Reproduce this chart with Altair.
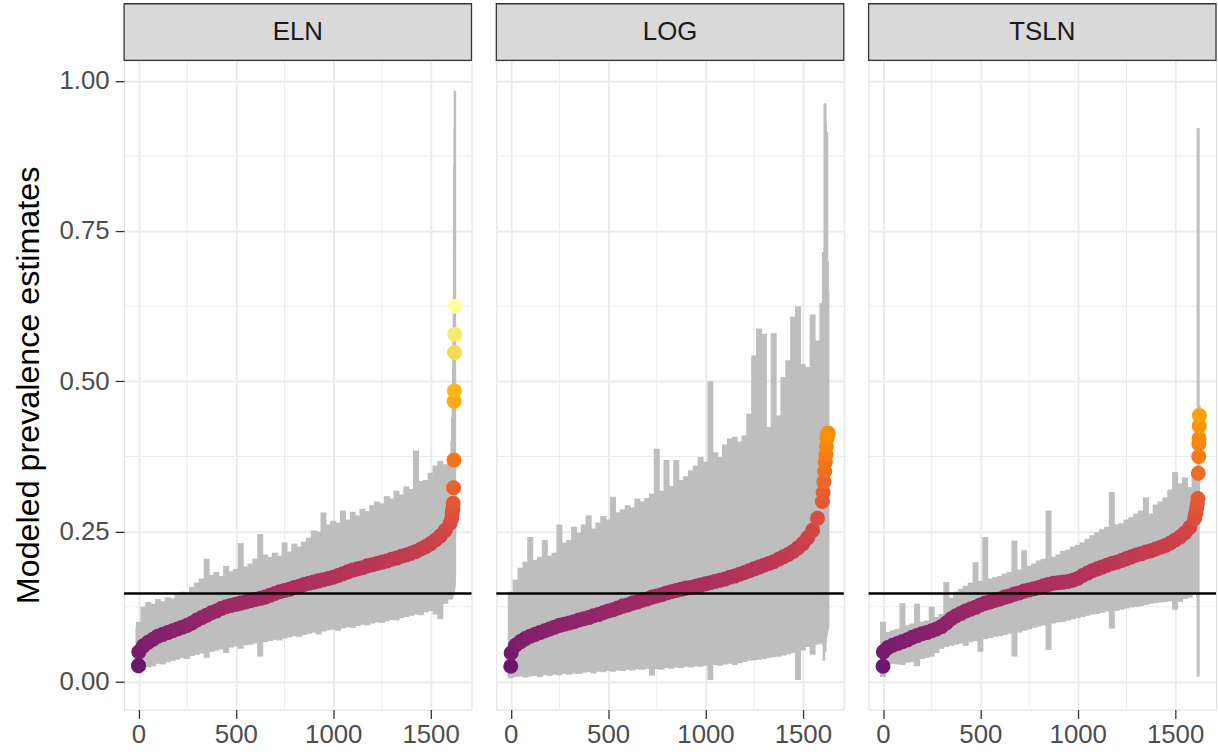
import altair as alt
import pandas as pd

# ---------------- data ----------------
PANELS = ["ELN", "LOG", "TSLN"]

# sampled ranks along the sorted x axis
RANKS = [0, 2, 25, 50, 75, 100, 125, 150, 175, 200,
         225, 250, 275, 300, 325, 350, 375, 400, 425, 450,
         475, 500, 525, 550, 575, 600, 625, 650, 675, 700,
         725, 750, 775, 800, 825, 850, 875, 900, 925, 950,
         975, 1000, 1025, 1050, 1075, 1100, 1125, 1150, 1175, 1200,
         1225, 1250, 1275, 1300, 1325, 1350, 1375, 1400, 1425, 1450,
         1475, 1500, 1525, 1550, 1575, 1600]

ELN_EST = [0.027, 0.050, 0.060, 0.066, 0.071, 0.076, 0.079, 0.082, 0.085, 0.088,
           0.091, 0.094, 0.098, 0.103, 0.107, 0.111, 0.115, 0.118, 0.122, 0.125,
           0.127, 0.129, 0.131, 0.133, 0.135, 0.137, 0.139, 0.141, 0.144, 0.147,
           0.150, 0.152, 0.154, 0.157, 0.159, 0.162, 0.164, 0.166, 0.168, 0.170,
           0.172, 0.174, 0.177, 0.180, 0.183, 0.186, 0.188, 0.190, 0.193, 0.195,
           0.197, 0.199, 0.201, 0.204, 0.206, 0.209, 0.211, 0.214, 0.217, 0.221,
           0.225, 0.230, 0.236, 0.243, 0.252, 0.264]
ELN_HI = [0.091, 0.100, 0.125, 0.133, 0.130, 0.138, 0.134, 0.141, 0.139, 0.146,
          0.150, 0.148, 0.158, 0.165, 0.172, 0.205, 0.178, 0.183, 0.176, 0.193,
          0.184, 0.188, 0.231, 0.192, 0.197, 0.205, 0.246, 0.212, 0.208, 0.215,
          0.210, 0.232, 0.217, 0.230, 0.225, 0.233, 0.240, 0.252, 0.250, 0.282,
          0.262, 0.268, 0.265, 0.285, 0.270, 0.283, 0.277, 0.288, 0.284, 0.294,
          0.300, 0.297, 0.309, 0.305, 0.318, 0.312, 0.325, 0.321, 0.385, 0.334,
          0.336, 0.348, 0.360, 0.368, 0.362, 0.372]
ELN_LO = [0.014, 0.018, 0.020, 0.024, 0.026, 0.030, 0.029, 0.033, 0.035, 0.037,
          0.040, 0.038, 0.043, 0.045, 0.047, 0.040, 0.050, 0.052, 0.054, 0.048,
          0.057, 0.059, 0.055, 0.061, 0.062, 0.064, 0.042, 0.066, 0.068, 0.070,
          0.069, 0.072, 0.074, 0.076, 0.075, 0.078, 0.080, 0.082, 0.079, 0.084,
          0.086, 0.087, 0.085, 0.089, 0.091, 0.090, 0.093, 0.095, 0.094, 0.097,
          0.099, 0.098, 0.101, 0.103, 0.102, 0.106, 0.108, 0.110, 0.112, 0.111,
          0.116, 0.118, 0.112, 0.104, 0.130, 0.137]
ELN_TAIL_RANK = [1608, 1611, 1614, 1616, 1618, 1620, 1621, 1622, 1623, 1624, 1625]
ELN_TAIL_EST = [0.272, 0.280, 0.288, 0.297, 0.323, 0.369, 0.467, 0.484, 0.548, 0.578, 0.625]
ELN_TAIL_HI = [0.400, 0.440, 0.480, 0.520, 0.580, 0.640, 0.720, 0.780, 0.860, 0.920, 0.984]
ELN_TAIL_LO = [0.138, 0.140, 0.142, 0.144, 0.146, 0.150, 0.155, 0.160, 0.165, 0.170, 0.175]

LOG_EST = [0.026, 0.048, 0.061, 0.067, 0.072, 0.076, 0.079, 0.082, 0.085, 0.088,
           0.091, 0.094, 0.096, 0.098, 0.100, 0.103, 0.105, 0.107, 0.110, 0.112,
           0.115, 0.118, 0.120, 0.123, 0.126, 0.128, 0.131, 0.133, 0.136, 0.138,
           0.141, 0.143, 0.145, 0.148, 0.150, 0.152, 0.154, 0.156, 0.157, 0.159,
           0.161, 0.163, 0.165, 0.167, 0.169, 0.171, 0.174, 0.176, 0.179, 0.182,
           0.185, 0.188, 0.191, 0.194, 0.197, 0.200, 0.204, 0.208, 0.212, 0.217,
           0.223, 0.230, 0.240, 0.252, 0.272, 0.300]
LOG_HI = [0.142, 0.150, 0.170, 0.190, 0.200, 0.241, 0.203, 0.208, 0.236, 0.210,
          0.215, 0.262, 0.232, 0.236, 0.258, 0.248, 0.262, 0.277, 0.255, 0.265,
          0.276, 0.270, 0.308, 0.282, 0.287, 0.294, 0.290, 0.305, 0.300, 0.306,
          0.313, 0.388, 0.318, 0.369, 0.326, 0.369, 0.336, 0.342, 0.352, 0.360,
          0.374, 0.366, 0.500, 0.382, 0.374, 0.395, 0.405, 0.408, 0.400, 0.410,
          0.446, 0.543, 0.588, 0.579, 0.424, 0.580, 0.443, 0.507, 0.535, 0.608,
          0.625, 0.529, 0.524, 0.611, 0.568, 0.630]
LOG_LO = [0.006, 0.008, 0.008, 0.009, 0.007, 0.009, 0.010, 0.008, 0.011, 0.010,
          0.012, 0.011, 0.013, 0.012, 0.014, 0.013, 0.015, 0.016, 0.014, 0.017,
          0.016, 0.018, 0.017, 0.019, 0.018, 0.020, 0.019, 0.021, 0.020, 0.022,
          0.010, 0.021, 0.020, 0.023, 0.022, 0.024, 0.023, 0.025, 0.024, 0.026,
          0.025, 0.027, 0.003, 0.028, 0.027, 0.029, 0.030, 0.028, 0.031, 0.033,
          0.035, 0.036, 0.037, 0.038, 0.040, 0.041, 0.042, 0.044, 0.046, 0.048,
          0.003, 0.052, 0.058, 0.045, 0.062, 0.064]
LOG_TAIL_RANK = [1604, 1608, 1612, 1615, 1618, 1621, 1624, 1627, 1630]
LOG_TAIL_EST = [0.315, 0.333, 0.350, 0.365, 0.378, 0.392, 0.405, 0.410, 0.414]
LOG_TAIL_HI = [0.715, 0.640, 0.962, 0.962, 0.930, 0.914, 0.914, 0.700, 0.650]
LOG_TAIL_LO = [0.060, 0.035, 0.070, 0.050, 0.065, 0.075, 0.080, 0.085, 0.090]

TSLN_EST = [0.026, 0.050, 0.057, 0.061, 0.064, 0.067, 0.070, 0.074, 0.077, 0.080,
            0.082, 0.085, 0.088, 0.092, 0.098, 0.105, 0.110, 0.114, 0.118, 0.121,
            0.124, 0.128, 0.131, 0.133, 0.136, 0.138, 0.141, 0.143, 0.146, 0.148,
            0.151, 0.153, 0.155, 0.157, 0.160, 0.162, 0.164, 0.165, 0.166, 0.167,
            0.169, 0.172, 0.177, 0.181, 0.185, 0.188, 0.191, 0.194, 0.197, 0.199,
            0.202, 0.205, 0.208, 0.211, 0.213, 0.216, 0.218, 0.221, 0.224, 0.227,
            0.231, 0.236, 0.241, 0.248, 0.257, 0.272]
TSLN_HI = [0.100, 0.085, 0.083, 0.086, 0.088, 0.131, 0.094, 0.097, 0.130, 0.100,
           0.102, 0.125, 0.108, 0.113, 0.166, 0.140, 0.150, 0.155, 0.160, 0.165,
           0.199, 0.168, 0.241, 0.172, 0.174, 0.176, 0.180, 0.183, 0.235, 0.187,
           0.219, 0.193, 0.197, 0.202, 0.205, 0.285, 0.208, 0.212, 0.218, 0.220,
           0.225, 0.228, 0.232, 0.238, 0.244, 0.249, 0.254, 0.258, 0.316, 0.262,
           0.264, 0.270, 0.274, 0.280, 0.285, 0.307, 0.280, 0.295, 0.300, 0.307,
           0.320, 0.349, 0.330, 0.340, 0.324, 0.345]
TSLN_LO = [0.008, 0.015, 0.028, 0.030, 0.029, 0.028, 0.032, 0.033, 0.026, 0.038,
           0.040, 0.042, 0.048, 0.055, 0.058, 0.060, 0.062, 0.064, 0.060, 0.066,
           0.068, 0.050, 0.071, 0.073, 0.075, 0.076, 0.078, 0.080, 0.042, 0.082,
           0.085, 0.087, 0.090, 0.092, 0.094, 0.053, 0.097, 0.099, 0.100, 0.102,
           0.104, 0.106, 0.108, 0.110, 0.112, 0.113, 0.115, 0.117, 0.089, 0.118,
           0.120, 0.122, 0.124, 0.125, 0.126, 0.128, 0.130, 0.131, 0.132, 0.133,
           0.134, 0.120, 0.133, 0.138, 0.140, 0.146]
TSLN_TAIL_RANK = [1606, 1610, 1614, 1617, 1619, 1621, 1622, 1623, 1624, 1625]
TSLN_TAIL_EST = [0.280, 0.288, 0.296, 0.305, 0.347, 0.375, 0.396, 0.405, 0.426, 0.443]
TSLN_TAIL_HI = [0.330, 0.340, 0.350, 0.921, 0.921, 0.400, 0.420, 0.430, 0.450, 0.460]
TSLN_TAIL_LO = [0.150, 0.145, 0.140, 0.009, 0.009, 0.300, 0.320, 0.330, 0.350, 0.370]

REFERENCE_LINE = [0.147]
X_TICKS = [0, 500, 1000, 1500]
X_MINOR = [250, 750, 1250]
Y_TICKS = [0, 0.25, 0.5, 0.75, 1.0]
Y_MINOR = [0.125, 0.375, 0.625, 0.875]

SERIES = {
    "ELN": (ELN_EST, ELN_LO, ELN_HI, ELN_TAIL_RANK, ELN_TAIL_EST, ELN_TAIL_LO, ELN_TAIL_HI),
    "LOG": (LOG_EST, LOG_LO, LOG_HI, LOG_TAIL_RANK, LOG_TAIL_EST, LOG_TAIL_LO, LOG_TAIL_HI),
    "TSLN": (TSLN_EST, TSLN_LO, TSLN_HI, TSLN_TAIL_RANK, TSLN_TAIL_EST, TSLN_TAIL_LO, TSLN_TAIL_HI),
}

# ---------------- styling ----------------
FONT = "Liberation Sans"
PW, PH = 350, 654
GRID = "#ebebeb"
xscale = alt.Scale(domain=[-74, 1710], nice=False, zero=False)
yscale = alt.Scale(domain=[-0.046, 1.034], nice=False, zero=False)
cscale = alt.Scale(scheme=alt.SchemeParams(name="inferno", extent=[0.3, 1.0]),
                   domain=[0.026, 0.625])

xaxis = alt.Axis(values=X_TICKS, format="d", grid=True, gridColor=GRID, gridWidth=2,
                 domain=False, tickColor="#333333", tickSize=9, tickWidth=1.3,
                 labelFontSize=26, labelColor="#4d4d4d", labelFont=FONT, labelPadding=3,
                 title=None, labelFlush=False)


def yaxis(first):
    if first:
        return alt.Axis(values=Y_TICKS, format=".2f", grid=True, gridColor=GRID, gridWidth=2,
                        domain=False, tickColor="#333333", tickSize=9, tickWidth=1.3,
                        labelFontSize=26, labelColor="#4d4d4d", labelFont=FONT,
                        labelPadding=6, title="Modeled prevalence estimates",
                        titleFontSize=32.5, titleFont=FONT, titleFontWeight="normal",
                        titleColor="#000000", titlePadding=14, labelFlush=False)
    return alt.Axis(values=Y_TICKS, grid=True, gridColor=GRID, gridWidth=2, domain=False,
                    ticks=False, labels=False, title=None)


def panel(name, first):
    est, lo, hi, trank, test, tlo, thi = SERIES[name]
    main = pd.DataFrame({"rank": RANKS, "est": est, "lo": lo, "hi": hi})
    tail = pd.DataFrame({"rank": trank, "est": test, "lo": tlo, "hi": thi})
    pts = pd.concat([main, tail], ignore_index=True)
    ya = yaxis(first)

    xm = alt.Chart(pd.DataFrame({"v": X_MINOR})).mark_rule(color=GRID, strokeWidth=1).encode(
        x=alt.X("v:Q", scale=xscale, axis=xaxis))
    ym = alt.Chart(pd.DataFrame({"v": Y_MINOR})).mark_rule(color=GRID, strokeWidth=1).encode(
        y=alt.Y("v:Q", scale=yscale, axis=ya))
    bars = alt.Chart(main).mark_rule(color="#bebebe", strokeWidth=6).encode(
        x=alt.X("rank:Q", scale=xscale, axis=xaxis),
        y=alt.Y("lo:Q", scale=yscale, axis=ya), y2="hi:Q")
    tbars = alt.Chart(tail).mark_rule(color="#bebebe", strokeWidth=2.5).encode(
        x=alt.X("rank:Q", scale=xscale, axis=xaxis),
        y=alt.Y("lo:Q", scale=yscale, axis=ya), y2="hi:Q")
    dots = alt.Chart(pts).mark_circle(size=230, opacity=1).encode(
        x=alt.X("rank:Q", scale=xscale, axis=xaxis),
        y=alt.Y("est:Q", scale=yscale, axis=ya),
        color=alt.Color("est:Q", scale=cscale, legend=None))
    hline = alt.Chart(pd.DataFrame({"v": REFERENCE_LINE})).mark_rule(
        color="black", strokeWidth=2.5).encode(y=alt.Y("v:Q", scale=yscale, axis=ya))
    lab = pd.DataFrame({"lab": [name]})
    strip = alt.Chart(lab).mark_rect(fill="#d9d9d9", stroke="#333333", strokeWidth=1.3).encode(
        x=alt.value(0), x2=alt.value(PW), y=alt.value(-57), y2=alt.value(0))
    stext = alt.Chart(lab).mark_text(fontSize=26, font=FONT, color="#1a1a1a",
                                     baseline="middle", align="center").encode(
        x=alt.value(PW / 2), y=alt.value(-28), text="lab:N")
    return alt.layer(xm, ym, bars, tbars, dots, hline, strip, stext).properties(
        width=PW, height=PH)


chart = alt.hconcat(*[panel(n, i == 0) for i, n in enumerate(PANELS)], spacing=21).properties(
    padding={"left": 11, "top": -1, "right": 0, "bottom": 0}
).configure_view(stroke="#333333", strokeWidth=1.3).configure(font=FONT)

chart.save("out.html", embed_options={"renderer": "svg", "actions": False})
